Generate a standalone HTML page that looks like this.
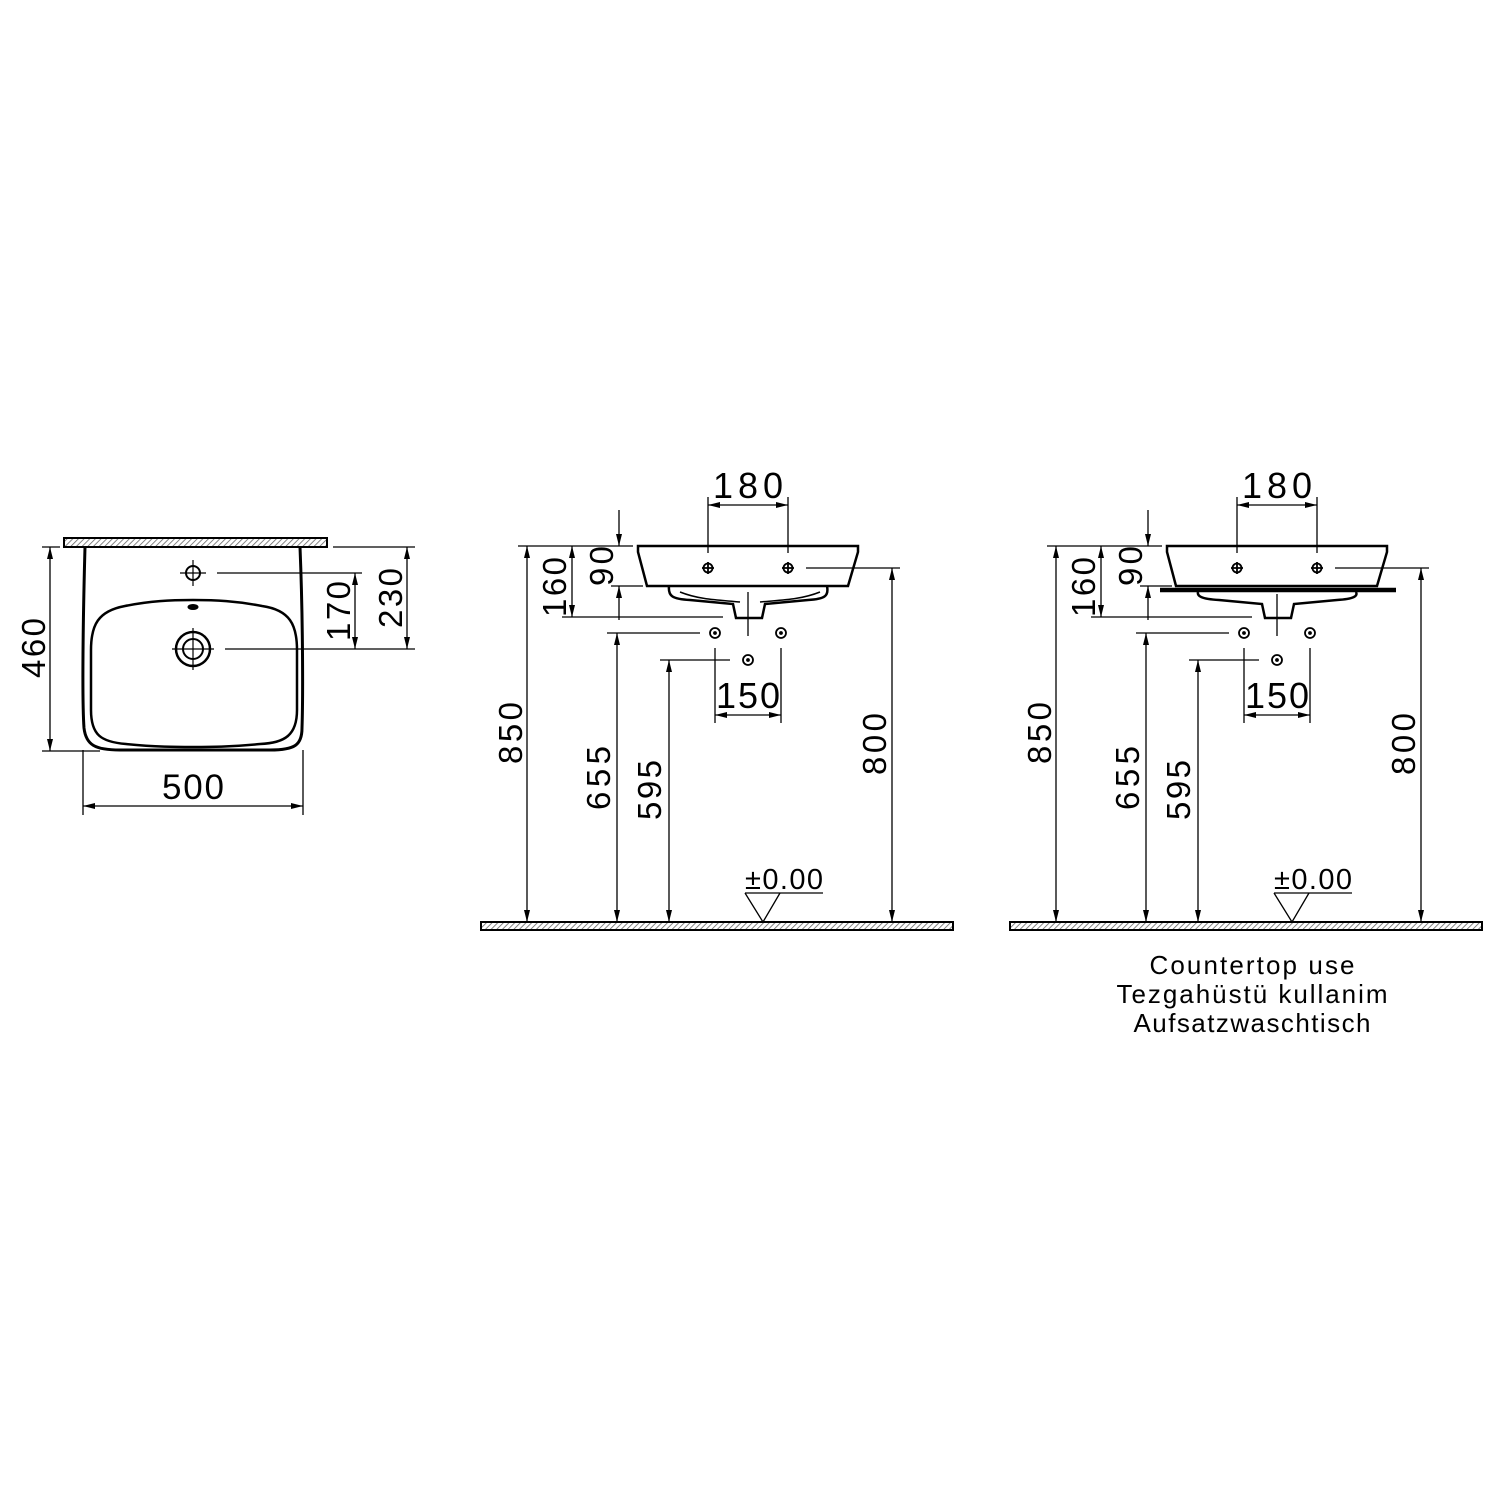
<!DOCTYPE html>
<html><head><meta charset="utf-8"><style>
html,body{margin:0;padding:0;background:#fff}
svg{display:block}
text{font-family:"Liberation Sans",sans-serif;fill:#000}
</style></head><body>
<svg width="1500" height="1500" viewBox="0 0 1500 1500" xmlns="http://www.w3.org/2000/svg">
<defs>
<pattern id="hatch" width="4" height="4" patternUnits="userSpaceOnUse" patternTransform="rotate(45)">
<rect width="4" height="4" fill="#fff"/><line x1="0" y1="0" x2="0" y2="4" stroke="#666" stroke-width="1.6"/>
</pattern>
<marker id="a" viewBox="0 0 12 6" refX="12" refY="3" markerWidth="12" markerHeight="6" markerUnits="userSpaceOnUse" orient="auto-start-reverse">
<path d="M0,0 L12,3 L0,6 Z" fill="#000"/></marker>
</defs>
<rect width="1500" height="1500" fill="#fff"/>

<!-- LEFT: top view -->
<g stroke="#000" fill="none">
<rect x="64" y="538" width="263" height="9" fill="url(#hatch)" stroke-width="2"/>
<path d="M85,547 C83,620 82,700 84,728 C86,745 95,750 120,750 L270,750 C295,750 302,745 302,728 C303,700 303,620 300,547" stroke-width="3"/>
<path d="M125,606 C150,601 170,600 193,600 C216,600 236,601 262,606 C290,610 297,625 297,650 L297,710 C297,735 285,743 260,744 C230,747 210,747 193,747 C176,747 156,747 126,744 C101,742 91,735 91,710 L91,650 C91,625 98,611 125,606 Z" stroke-width="2.5"/>
<ellipse cx="193" cy="607" rx="5" ry="2.5" fill="#000" stroke-width="1"/>
<circle cx="193" cy="573" r="7" stroke-width="2"/>
<circle cx="193" cy="649" r="17" stroke-width="2.5"/>
<circle cx="193" cy="649" r="10" stroke-width="2"/>
<g stroke-width="1.2">
<path d="M193,560v26M180,573h26M193,628v42M172,649h42M187,649h12M193,643v12"/>
</g>
<g stroke-width="1.3">
<line x1="42" y1="547" x2="60" y2="547"/>
<line x1="42" y1="751" x2="100" y2="751"/>
<line x1="50" y1="547" x2="50" y2="751" marker-start="url(#a)" marker-end="url(#a)"/>
<line x1="217" y1="573" x2="362" y2="573"/>
<line x1="225" y1="649" x2="415" y2="649"/>
<line x1="333" y1="547" x2="415" y2="547"/>
<line x1="355" y1="573" x2="355" y2="649" marker-start="url(#a)" marker-end="url(#a)"/>
<line x1="407" y1="547" x2="407" y2="649" marker-start="url(#a)" marker-end="url(#a)"/>
<line x1="83" y1="750" x2="83" y2="815"/>
<line x1="303" y1="750" x2="303" y2="815"/>
<line x1="83" y1="806" x2="303" y2="806" marker-start="url(#a)" marker-end="url(#a)"/>
</g>
</g>
<text x="0" y="0" font-size="33" text-anchor="middle" textLength="60" transform="translate(45,648) rotate(-90)">460</text>
<text x="0" y="0" font-size="33" text-anchor="middle" textLength="60" transform="translate(350,611) rotate(-90)">170</text>
<text x="0" y="0" font-size="33" text-anchor="middle" textLength="60" transform="translate(402,598) rotate(-90)">230</text>
<text x="193" y="799" font-size="35" text-anchor="middle" textLength="62">500</text>

<!-- SIDE VIEW (middle) -->
<g>
<g stroke="#000" fill="none">
<rect x="481" y="922" width="472" height="8" fill="url(#hatch)" stroke-width="2"/>
<path d="M638,546 L858,546 L858,552 L848,586 L647,586 L638,552 Z" stroke-width="2.5"/>
<path d="M669,586 C668,596 672,599 690,600 L733,604 L736,618 L762,618 L765,604 L808,600 C825,599 829,596 827,586" stroke-width="2.5"/>
<path d="M680,592 C700,600 720,600 740,602 M820,592 C800,600 780,600 760,602" stroke-width="1.5"/>
<g stroke-width="1.8">
<circle cx="708" cy="568" r="4.5"/><circle cx="788" cy="568" r="4.5"/>
<path d="M708,562v12M702,568h12M788,562v12M782,568h12"/>
<circle cx="715" cy="633" r="5"/><circle cx="781" cy="633" r="5"/><circle cx="748" cy="660" r="5"/>
<circle cx="715" cy="633" r="1" fill="#000"/><circle cx="781" cy="633" r="1" fill="#000"/><circle cx="748" cy="660" r="1" fill="#000"/>
</g>
<g stroke-width="1.3">
<line x1="748" y1="592" x2="748" y2="636"/>
<line x1="708" y1="497" x2="708" y2="553"/>
<line x1="788" y1="497" x2="788" y2="553"/>
<line x1="708" y1="505" x2="788" y2="505" marker-start="url(#a)" marker-end="url(#a)"/>
<line x1="518" y1="546" x2="633" y2="546"/>
<line x1="527" y1="546" x2="527" y2="922" marker-start="url(#a)" marker-end="url(#a)"/>
<line x1="562" y1="617" x2="723" y2="617"/>
<line x1="572" y1="546" x2="572" y2="617" marker-start="url(#a)" marker-end="url(#a)"/>
<line x1="619" y1="510" x2="619" y2="546" marker-end="url(#a)"/>
<line x1="611" y1="586" x2="643" y2="586"/>
<line x1="619" y1="620" x2="619" y2="586" marker-end="url(#a)"/>
<line x1="607" y1="633" x2="700" y2="633"/>
<line x1="617" y1="633" x2="617" y2="922" marker-start="url(#a)" marker-end="url(#a)"/>
<line x1="660" y1="660" x2="730" y2="660"/>
<line x1="669" y1="660" x2="669" y2="922" marker-start="url(#a)" marker-end="url(#a)"/>
<line x1="715" y1="648" x2="715" y2="723"/>
<line x1="781" y1="648" x2="781" y2="723"/>
<line x1="715" y1="715" x2="781" y2="715" marker-start="url(#a)" marker-end="url(#a)"/>
<line x1="806" y1="568" x2="900" y2="568"/>
<line x1="892" y1="568" x2="892" y2="922" marker-start="url(#a)" marker-end="url(#a)"/>
<line x1="745" y1="893" x2="823" y2="893"/>
<path d="M745,893 L763,922 L780,893"/>
</g>
</g>
<text x="748" y="498" font-size="36" text-anchor="middle" textLength="70">180</text>
<text x="748" y="708" font-size="36" text-anchor="middle" textLength="64">150</text>
<text x="784" y="889" font-size="29" text-anchor="middle" textLength="78">±0.00</text>
<text font-size="33" text-anchor="middle" textLength="62" transform="translate(522,733) rotate(-90)">850</text>
<text font-size="33" text-anchor="middle" textLength="64" transform="translate(610,778) rotate(-90)">655</text>
<text font-size="33" text-anchor="middle" textLength="60" transform="translate(661,790) rotate(-90)">595</text>
<text font-size="33" text-anchor="middle" textLength="62" transform="translate(886,744) rotate(-90)">800</text>
<text font-size="33" text-anchor="middle" textLength="60" transform="translate(566,587) rotate(-90)">160</text>
<text font-size="33" text-anchor="middle" textLength="40" transform="translate(613,566) rotate(-90)">90</text>
</g>

<!-- SIDE VIEW (right, countertop) -->
<g transform="translate(529,0)">
<g stroke="#000" fill="none">
<rect x="481" y="922" width="472" height="8" fill="url(#hatch)" stroke-width="2"/>
<path d="M638,546 L858,546 L858,552 L848,586 L647,586 L638,552 Z" stroke-width="2.5"/>
<line x1="631" y1="590" x2="867" y2="590" stroke-width="4.5"/>
<path d="M669,592 C668,596 672,599 690,600 L733,604 L736,618 L762,618 L765,604 L808,600 C825,599 829,596 827,592" stroke-width="2.5"/>
<g stroke-width="1.8">
<circle cx="708" cy="568" r="4.5"/><circle cx="788" cy="568" r="4.5"/>
<path d="M708,562v12M702,568h12M788,562v12M782,568h12"/>
<circle cx="715" cy="633" r="5"/><circle cx="781" cy="633" r="5"/><circle cx="748" cy="660" r="5"/>
<circle cx="715" cy="633" r="1" fill="#000"/><circle cx="781" cy="633" r="1" fill="#000"/><circle cx="748" cy="660" r="1" fill="#000"/>
</g>
<g stroke-width="1.3">
<line x1="748" y1="594" x2="748" y2="636"/>
<line x1="708" y1="497" x2="708" y2="553"/>
<line x1="788" y1="497" x2="788" y2="553"/>
<line x1="708" y1="505" x2="788" y2="505" marker-start="url(#a)" marker-end="url(#a)"/>
<line x1="518" y1="546" x2="633" y2="546"/>
<line x1="527" y1="546" x2="527" y2="922" marker-start="url(#a)" marker-end="url(#a)"/>
<line x1="562" y1="617" x2="723" y2="617"/>
<line x1="572" y1="546" x2="572" y2="617" marker-start="url(#a)" marker-end="url(#a)"/>
<line x1="619" y1="510" x2="619" y2="546" marker-end="url(#a)"/>
<line x1="611" y1="586" x2="643" y2="586"/>
<line x1="619" y1="620" x2="619" y2="586" marker-end="url(#a)"/>
<line x1="607" y1="633" x2="700" y2="633"/>
<line x1="617" y1="633" x2="617" y2="922" marker-start="url(#a)" marker-end="url(#a)"/>
<line x1="660" y1="660" x2="730" y2="660"/>
<line x1="669" y1="660" x2="669" y2="922" marker-start="url(#a)" marker-end="url(#a)"/>
<line x1="715" y1="648" x2="715" y2="723"/>
<line x1="781" y1="648" x2="781" y2="723"/>
<line x1="715" y1="715" x2="781" y2="715" marker-start="url(#a)" marker-end="url(#a)"/>
<line x1="806" y1="568" x2="900" y2="568"/>
<line x1="892" y1="568" x2="892" y2="922" marker-start="url(#a)" marker-end="url(#a)"/>
<line x1="745" y1="893" x2="823" y2="893"/>
<path d="M745,893 L763,922 L780,893"/>
</g>
</g>
<text x="748" y="498" font-size="36" text-anchor="middle" textLength="70">180</text>
<text x="748" y="708" font-size="36" text-anchor="middle" textLength="64">150</text>
<text x="784" y="889" font-size="29" text-anchor="middle" textLength="78">±0.00</text>
<text font-size="33" text-anchor="middle" textLength="62" transform="translate(522,733) rotate(-90)">850</text>
<text font-size="33" text-anchor="middle" textLength="64" transform="translate(610,778) rotate(-90)">655</text>
<text font-size="33" text-anchor="middle" textLength="60" transform="translate(661,790) rotate(-90)">595</text>
<text font-size="33" text-anchor="middle" textLength="62" transform="translate(886,744) rotate(-90)">800</text>
<text font-size="33" text-anchor="middle" textLength="60" transform="translate(566,587) rotate(-90)">160</text>
<text font-size="33" text-anchor="middle" textLength="40" transform="translate(613,566) rotate(-90)">90</text>
</g>

<text x="1252" y="974" font-size="26" text-anchor="middle" textLength="205">Countertop use</text>
<text x="1252" y="1003" font-size="26" text-anchor="middle" textLength="271">Tezgahüstü kullanim</text>
<text x="1252" y="1032" font-size="26" text-anchor="middle" textLength="237">Aufsatzwaschtisch</text>
</svg>
</body></html>
